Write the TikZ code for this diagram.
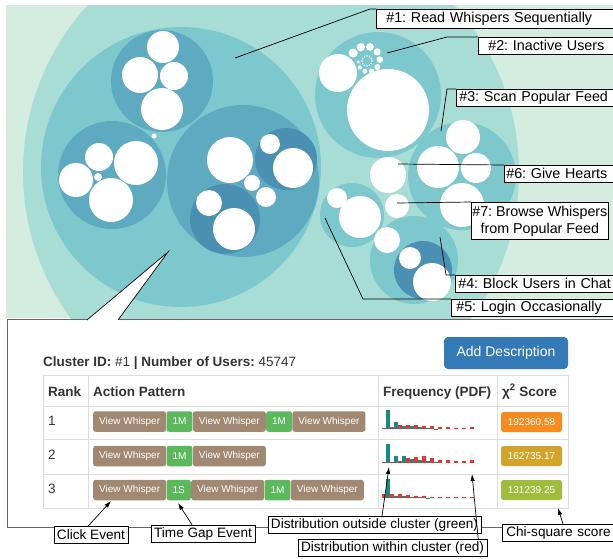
\documentclass[tikz,border=0pt]{standalone}
\usepackage{fontspec}
\setmainfont{Liberation Sans}
\usetikzlibrary{positioning}
\usetikzlibrary{arrows.meta}
\frenchspacing

\definecolor{mint}{HTML}{D5ECE1}
\definecolor{paleteal}{HTML}{A8DDD6}
\definecolor{midteal}{HTML}{7CC8CD}
\definecolor{subteal}{HTML}{5EABC1}
\definecolor{deepteal}{HTML}{4A90B3}
\definecolor{brownbadge}{HTML}{A08872}
\definecolor{greenbadge}{HTML}{5CB85C}
\definecolor{btnblue}{HTML}{337AB7}
\definecolor{rulegray}{HTML}{DDDDDD}
\definecolor{textgray}{HTML}{333333}
\definecolor{histteal}{HTML}{178A86}
\definecolor{histred}{HTML}{F23030}
\definecolor{scoreA}{HTML}{F68B1F}
\definecolor{scoreB}{HTML}{D2A42C}
\definecolor{scoreC}{HTML}{9FBD3C}

\begin{document}
\begin{tikzpicture}[x=1pt, y=-1pt,
tag/.style={draw=black, fill=white, line width=0.6pt, font=\fontsize{13.6}{17}\selectfont, inner ysep=0pt, minimum height=17pt},
toptag/.style={tag, anchor=north west, text width=240pt, align=left, inner xsep=#1, font=\fontsize{14.3}{17}\selectfont},
toptag/.default=3pt,
callout/.style={black, line width=0.7pt},
action/.style={fill=brownbadge, text=white, rounded corners=2.5pt, font=\fontsize{10}{12}\selectfont, inner xsep=6pt, inner ysep=0pt, minimum height=20.5pt},
gapev/.style={action, fill=greenbadge},
score/.style={rounded corners=2.5pt, text=white, font=\fontsize{10}{12}\selectfont, minimum width=61pt, minimum height=20pt, inner sep=0pt},
head/.style={font=\fontsize{13.5}{16}\selectfont\bfseries, text=textgray, anchor=base west, inner sep=0pt},
cell/.style={font=\fontsize{13.5}{16}\selectfont, text=textgray, anchor=base west, inner sep=0pt},
>={Latex[length=7pt, width=4.5pt]},
]

\clip (0,0) rectangle (613,558);

% cluster map
\begin{scope}
\clip (6,5) rectangle (613,318);
\fill[mint] (6,5) rectangle (613,318);
\fill[paleteal] (271,172) circle (248pt);
\foreach \x/\y/\r in {181/167/140, 378/95/63, 462/176/54, 352/215/32, 414/260/44}
  \fill[midteal] (\x,\y) circle (\r pt);
\foreach \x/\y/\r in {162/81/51, 112/175/54, 243/181/76}
  \fill[subteal] (\x,\y) circle (\r pt);
\foreach \x/\y/\r in {286/159/31, 225/219/35, 423/270/29}
  \fill[deepteal] (\x,\y) circle (\r pt);
\foreach \x/\y/\r in {163/47/16, 140/75/18, 174/76/14, 162/109/21, 154/136/2.5,
  99/157/14, 136/163/22, 76/180/17, 111/200/22, 98/177/4,
  230/160/23, 252/183/8, 266/197/10, 270/144/10, 293/168/20, 209/203/13, 234/229/21,
  388/110/41, 338/73/19,
  463/137/17, 438/167/21, 476/168/15, 462/205/22,
  388/175/18, 397/206/12,
  337/198/10, 360/217/21,
  387/240/13, 410/258/11, 432/282/19}
  \fill[white] (\x,\y) circle (\r pt);
% spiral of small users
\foreach \k in {0,...,9}
  \fill[white] ([shift={(367,61)}] {36*\k-150}:{16-0.8*\k}) circle ({(4.5-0.3*\k)*1pt});
\foreach \a in {0,30,...,330}
  \fill[white] ([shift={(367,61)}] \a:5) circle (0.9pt);
\end{scope}

% detail panel
\draw[gray!80!black, line width=1pt, fill=white] (7,319) rectangle (700,527);
\draw[line width=0.7pt, fill=white] (87,320) -- (168,252) -- (118,320);

\node[cell] (cid) at (43,366.5) {\textbf{Cluster ID:} \#1 \textbf{| Number of Users:} 45747};
\node[fill=btnblue, text=white, rounded corners=4pt, minimum width=124pt, minimum height=32pt, inner sep=0pt, font=\fontsize{14}{16}\selectfont] (adddesc) at (506,353) {Add Description};

\draw[rulegray, line width=1pt] (43,375) rectangle (568,508);
\foreach \y in {406,439,474}
  \draw[rulegray, line width=1pt] (43,\y) -- (568,\y);
\foreach \x in {88,378,497}
  \draw[rulegray, line width=1pt] (\x,375) -- (\x,508);

\node[head] (hrank) at (48,396) {Rank};
\node[head] (hact) at (93,396) {Action Pattern};
\node[head] (hfreq) at (383,396) {Frequency (PDF)};
\node[head] (hscore) at (502,396) {χ\textsuperscript{2} Score};

\node[cell] (rk1) at (48,425) {1};
\node[cell] (rk2) at (48,459) {2};
\node[cell] (rk3) at (48,493) {3};

\node[action, anchor=west] (a11) at (93,421.5) {View Whisper};
\node[gapev, right=0pt of a11] (a12) {1M};
\node[action, right=0pt of a12] (a13) {View Whisper};
\node[gapev, right=0pt of a13] (a14) {1M};
\node[action, right=0pt of a14] (a15) {View Whisper};

\node[action, anchor=west] (a21) at (93,456) {View Whisper};
\node[gapev, right=0pt of a21] (a22) {1M};
\node[action, right=0pt of a22] (a23) {View Whisper};

\node[action, anchor=west] (a31) at (93,490) {View Whisper};
\node[gapev, right=0pt of a31] (a32) {1S};
\node[action, right=0pt of a32] (a33) {View Whisper};
\node[gapev, right=0pt of a33] (a34) {1M};
\node[action, right=0pt of a34] (a35) {View Whisper};

% histograms
\fill[histred] (382,429) rectangle ++(4,-0.7);
\foreach \t/\r [count=\i from 0] in {19/2.3, 7/4, 3/4, 3/4, 2/3.5, 1/3, 0.5/2, 0/2, 0/1.5, 0/1.5, 0/2} {
  \fill[histteal] (386+8*\i,429) rectangle ++(4,-\t);
  \fill[histred] (390+8*\i,429) rectangle ++(4,-\r);
}
\fill[histred] (382,463) rectangle ++(4,-0.7);
\foreach \t/\r [count=\i from 0] in {19/1.5, 7/2, 7/5, 4/6, 3/7, 2/5, 1/3.5, 0/3, 0/2.5, 0/2.5, 0/3} {
  \fill[histteal] (386+8*\i,463) rectangle ++(4,-\t);
  \fill[histred] (390+8*\i,463) rectangle ++(4,-\r);
}
\fill[histred] (382,498) rectangle ++(4,-4);
\foreach \t/\r [count=\i from 0] in {19/4.5, 2.5/4, 2/3, 1.5/2.5, 1/2, 0.5/1.5, 0/1.5, 0/1, 0/1, 0/1, 0/1.5} {
  \fill[histteal] (386+8*\i,498) rectangle ++(4,-\t);
  \fill[histred] (390+8*\i,498) rectangle ++(4,-\r);
}

\node[score, fill=scoreA] (s1) at (531.5,422) {192360.58};
\node[score, fill=scoreB] (s2) at (531.5,456) {162735.17};
\node[score, fill=scoreC] (s3) at (531.5,490) {131239.25};

% cluster labels
\node[toptag=10pt, minimum height=19pt] (l1) at (376,9) {\#1: Read Whispers Sequentially};
\node[toptag=10pt] (l2) at (478,37) {\#2: Inactive Users};
\node[toptag] (l3) at (456,89) {\#3: Scan Popular Feed};
\node[toptag=2pt] (l6) at (504,165) {\#6: Give Hearts};
\node[tag, anchor=north west, align=center, inner xsep=1pt, minimum height=37pt, font=\fontsize{14.3}{17}\selectfont] (l7) at (471,202) {\#7: Browse Whispers\\from Popular Feed};
\node[toptag] (l4) at (455,275) {\#4: Block Users in Chat};
\node[toptag=5pt] (l5) at (451,299) {\#5: Login Occasionally};

\coordinate (p1) at (235,58);
\coordinate (p2) at (387,53);
\coordinate (p3) at (441,131);
\coordinate (p6) at (398,164);
\coordinate (p7) at (397,203);
\coordinate (p4) at (440,237);
\coordinate (p5) at (325,218);
\draw[callout] (p1) -- (370,9) -- (l1.north west);
\draw[callout] (p2) -- (447,37) -- (l2.north west);
\draw[callout] (p3) -- (447,89) -- (l3.north west);
\draw[callout] (p6) -- (l6.north west);
\draw[callout] (p7) -- (l7.north west);
\draw[callout] (p4) -- (446,275) -- (l4.north west);
\draw[callout] (p5) -- (363,299) -- (l5.north west);

% panel labels
\node[tag, inner xsep=3pt] (click) at (91,535) {Click Event};
\node[tag, inner xsep=3pt] (timegap) at (203,533.5) {Time Gap Event};
\node[tag, inner xsep=3pt] (outside) at (374.5,525) {Distribution outside cluster (green)};
\node[tag, inner xsep=3pt] (within) at (392.5,548) {Distribution within cluster (red)};
\node[tag, anchor=north west, text width=200pt, align=left, inner xsep=4pt] (chisq) at (502,524) {Chi-square score};

\coordinate (clicktip) at (111,501);
\coordinate (gaptip) at (178,503);
\coordinate (greentip) at (389,467);
\coordinate (redtip) at (472,474);
\coordinate (scoretip) at (558,508);
\draw[callout, ->] ([xshift=-3pt]click.north) -- (clicktip);
\draw[callout, ->] ([xshift=-11pt]timegap.north) -- (gaptip);
\draw[callout, ->] ([xshift=7.5pt]outside.north) -- (greentip);
\draw[callout, ->] ([xshift=-9pt]within.north east) -- (redtip);
\draw[callout, ->] ([xshift=61pt]chisq.north west) -- (scoretip);
\end{tikzpicture}
\end{document}
